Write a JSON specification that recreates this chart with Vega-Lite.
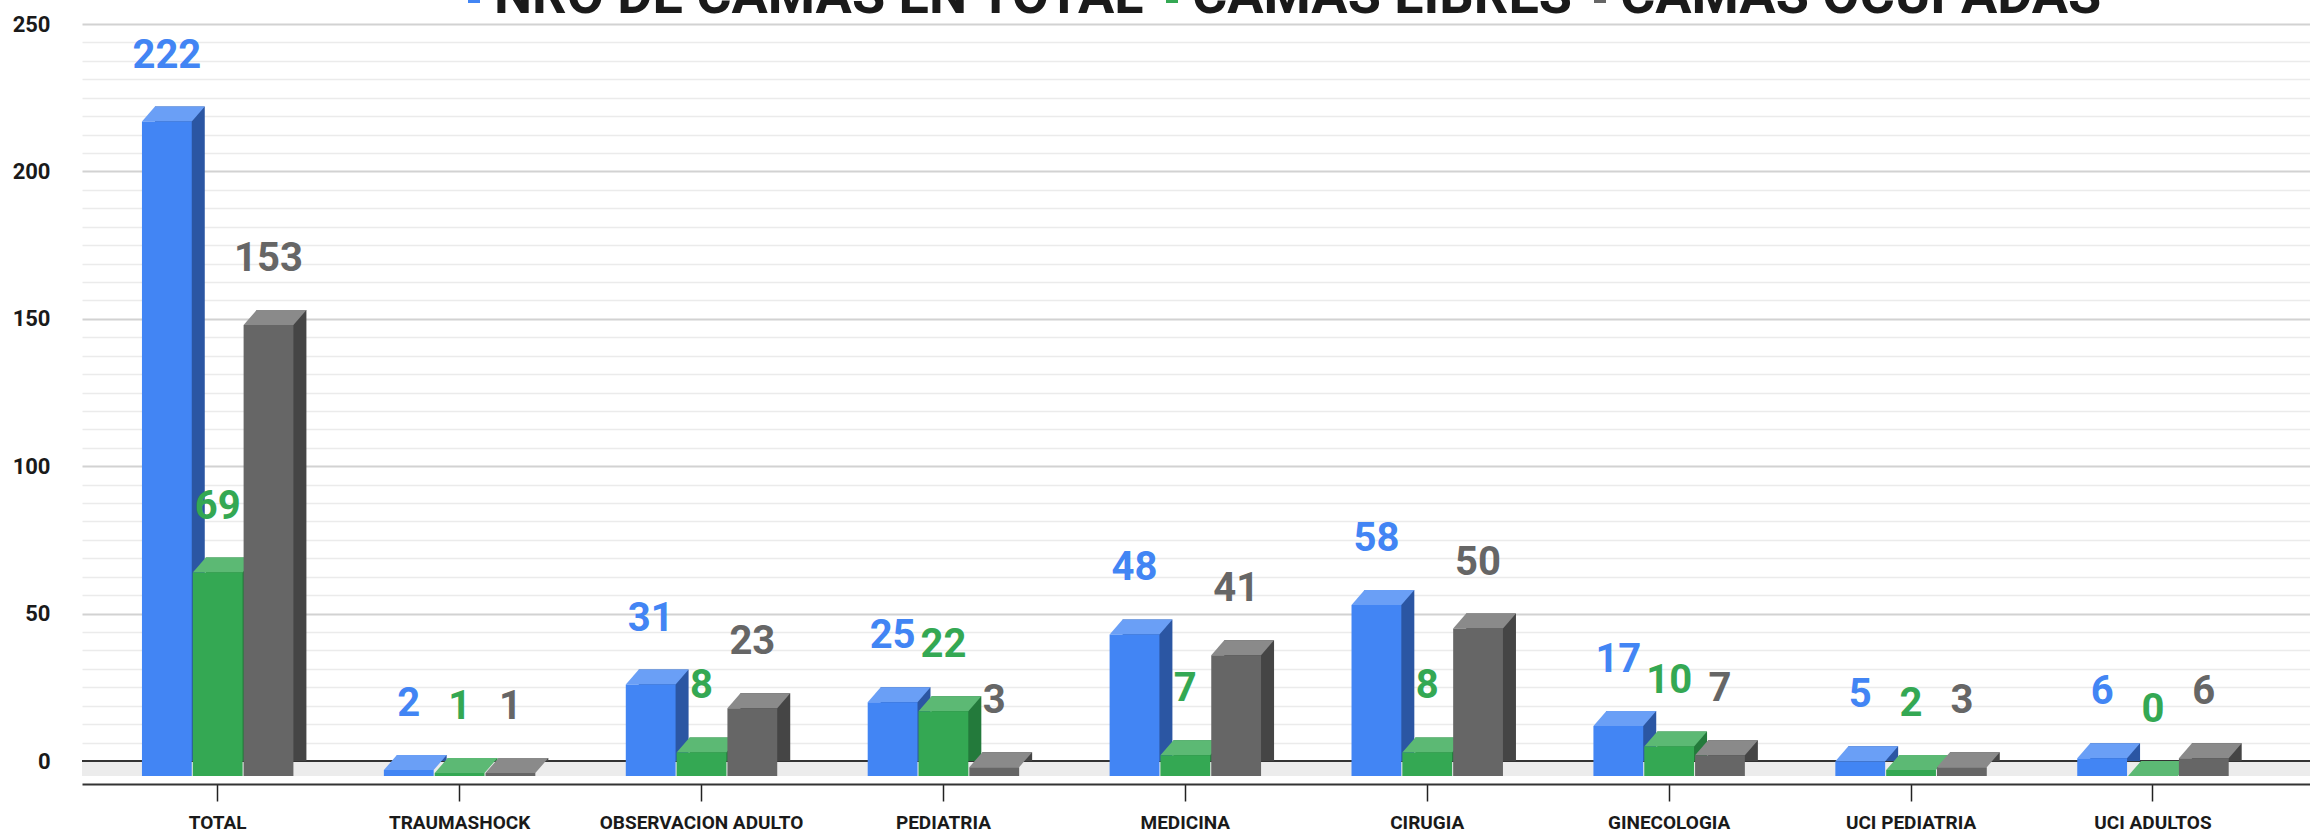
{
  "$schema": "https://vega.github.io/schema/vega-lite/v6.json",
  "autosize": {"type": "none"},
  "padding": {"left": 82, "top": 24, "right": 0, "bottom": 71},
  "width": 2228,
  "height": 737,
  "background": "#ffffff",
  "config": {
    "view": {"stroke": null},
    "font": "Roboto",
    "axisX": {
      "labelAngle": 0, "offset": 23, "grid": false, "domainColor": "#333333", "domainWidth": 2,
      "tickColor": "#222222", "tickSize": 17, "tickWidth": 1.5,
      "labelFont": "Roboto", "labelFontSize": 19, "labelFontWeight": "bold", "labelColor": "#1a1a1a",
      "labelPadding": 12, "labelBaseline": "top", "labelLimit": 400
    },
    "axisY": {
      "domain": false, "ticks": false, "tickSize": 0, "labelPadding": 32, "labelOverlap": false,
      "labelFont": "Roboto", "labelFontSize": 22, "labelFontWeight": "bold", "labelColor": "#1a1a1a"
    }
  },
  "data": {
    "values": [
      {"area": "TOTAL", "serie": "NRO DE CAMAS EN TOTAL", "camas": 222},
      {"area": "TOTAL", "serie": "CAMAS LIBRES", "camas": 69},
      {"area": "TOTAL", "serie": "CAMAS OCUPADAS", "camas": 153},
      {"area": "TRAUMASHOCK", "serie": "NRO DE CAMAS EN TOTAL", "camas": 2},
      {"area": "TRAUMASHOCK", "serie": "CAMAS LIBRES", "camas": 1},
      {"area": "TRAUMASHOCK", "serie": "CAMAS OCUPADAS", "camas": 1},
      {"area": "OBSERVACION ADULTO", "serie": "NRO DE CAMAS EN TOTAL", "camas": 31},
      {"area": "OBSERVACION ADULTO", "serie": "CAMAS LIBRES", "camas": 8},
      {"area": "OBSERVACION ADULTO", "serie": "CAMAS OCUPADAS", "camas": 23},
      {"area": "PEDIATRIA", "serie": "NRO DE CAMAS EN TOTAL", "camas": 25},
      {"area": "PEDIATRIA", "serie": "CAMAS LIBRES", "camas": 22},
      {"area": "PEDIATRIA", "serie": "CAMAS OCUPADAS", "camas": 3},
      {"area": "MEDICINA", "serie": "NRO DE CAMAS EN TOTAL", "camas": 48},
      {"area": "MEDICINA", "serie": "CAMAS LIBRES", "camas": 7},
      {"area": "MEDICINA", "serie": "CAMAS OCUPADAS", "camas": 41},
      {"area": "CIRUGIA", "serie": "NRO DE CAMAS EN TOTAL", "camas": 58},
      {"area": "CIRUGIA", "serie": "CAMAS LIBRES", "camas": 8},
      {"area": "CIRUGIA", "serie": "CAMAS OCUPADAS", "camas": 50},
      {"area": "GINECOLOGIA", "serie": "NRO DE CAMAS EN TOTAL", "camas": 17},
      {"area": "GINECOLOGIA", "serie": "CAMAS LIBRES", "camas": 10},
      {"area": "GINECOLOGIA", "serie": "CAMAS OCUPADAS", "camas": 7},
      {"area": "UCI PEDIATRIA", "serie": "NRO DE CAMAS EN TOTAL", "camas": 5},
      {"area": "UCI PEDIATRIA", "serie": "CAMAS LIBRES", "camas": 2},
      {"area": "UCI PEDIATRIA", "serie": "CAMAS OCUPADAS", "camas": 3},
      {"area": "UCI ADULTOS", "serie": "NRO DE CAMAS EN TOTAL", "camas": 6},
      {"area": "UCI ADULTOS", "serie": "CAMAS LIBRES", "camas": 0},
      {"area": "UCI ADULTOS", "serie": "CAMAS OCUPADAS", "camas": 6}
    ]
  },
  "resolve": {"scale": {"color": "independent", "x": "independent"}, "axis": {"y": "independent"}},
  "layer": [
    {
      "mark": {"type": "bar", "color": "#ffffff", "opacity": 0},
      "encoding": {
        "x": {"field": "area", "type": "nominal", "sort": null, "scale": {"paddingInner": 0, "paddingOuter": 0.105, "align": 0.29}, "axis": {"title": null}},
        "y": {"field": "camas", "type": "quantitative", "scale": {"domain": [0, 250], "nice": false},
          "axis": {"title": null,
            "values": [0, 6.25, 12.5, 18.75, 25, 31.25, 37.5, 43.75, 50, 56.25, 62.5, 68.75, 75, 81.25, 87.5, 93.75, 100, 106.25, 112.5, 118.75, 125, 131.25, 137.5, 143.75, 150, 156.25, 162.5, 168.75, 175, 181.25, 187.5, 193.75, 200, 206.25, 212.5, 218.75, 225, 231.25, 237.5, 243.75, 250],
            "labelExpr": "datum.value % 50 === 0 ? datum.label : ''",
            "grid": true,
            "gridColor": {"condition": {"test": "datum.value % 50 === 0", "value": "#d2d2d2"}, "value": "#ebebeb"},
            "gridWidth": {"condition": {"test": "datum.value % 50 === 0", "value": 2}, "value": 1.5}}}
      }
    },
    {
      "mark": {"type": "rule", "color": "#ececec", "strokeWidth": 15, "yOffset": 7.5, "strokeCap": "butt"},
      "encoding": {
        "y": {"datum": 0, "type": "quantitative", "axis": null}
      }
    },
    {
      "mark": {"type": "rule", "color": "#333333", "strokeWidth": 2},
      "encoding": {
        "y": {"datum": 0, "type": "quantitative", "axis": null}
      }
    },
    {
      "mark": {"type": "bar"},
      "encoding": {
        "x": {"field": "area", "type": "nominal", "sort": null, "scale": {"paddingInner": 0, "paddingOuter": 0.105, "align": 0.29, "range": [13, 2241]}, "axis": null},
        "xOffset": {"field": "serie", "sort": ["NRO DE CAMAS EN TOTAL", "CAMAS LIBRES", "CAMAS OCUPADAS"], "scale": {"paddingInner": 0.02, "paddingOuter": 0.89}},
        "y": {"field": "camas", "type": "quantitative", "axis": null},
        "color": {"field": "serie", "type": "nominal", "legend": null,
          "scale": {"domain": ["NRO DE CAMAS EN TOTAL", "CAMAS LIBRES", "CAMAS OCUPADAS"], "range": ["#2b56a3", "#237a3b", "#454545"]}}
      }
    },
    {
      "mark": {"type": "point", "shape": "M -24.9 0 L 24.9 0 L 37.9 -15 L -11.9 -15 Z", "size": 4, "filled": true, "opacity": 1, "strokeWidth": 0, "yOffset": 15},
      "encoding": {
        "x": {"field": "area", "type": "nominal", "sort": null, "scale": {"paddingInner": 0, "paddingOuter": 0.105, "align": 0.29}, "axis": null},
        "xOffset": {"field": "serie", "sort": ["NRO DE CAMAS EN TOTAL", "CAMAS LIBRES", "CAMAS OCUPADAS"], "scale": {"paddingInner": 0.02, "paddingOuter": 0.89}},
        "y": {"field": "camas", "type": "quantitative", "axis": null},
        "color": {"field": "serie", "type": "nominal", "legend": null,
          "scale": {"domain": ["NRO DE CAMAS EN TOTAL", "CAMAS LIBRES", "CAMAS OCUPADAS"], "range": ["#6a9ff6", "#5cb974", "#8a8a8a"]}}
      }
    },
    {
      "mark": {"type": "bar", "yOffset": 15, "y2Offset": 15},
      "encoding": {
        "x": {"field": "area", "type": "nominal", "sort": null, "scale": {"paddingInner": 0, "paddingOuter": 0.105, "align": 0.29}, "axis": null},
        "xOffset": {"field": "serie", "sort": ["NRO DE CAMAS EN TOTAL", "CAMAS LIBRES", "CAMAS OCUPADAS"], "scale": {"paddingInner": 0.02, "paddingOuter": 0.89}},
        "y": {"field": "camas", "type": "quantitative", "axis": null},
        "color": {"field": "serie", "type": "nominal",
          "scale": {"domain": ["NRO DE CAMAS EN TOTAL", "CAMAS LIBRES", "CAMAS OCUPADAS"], "range": ["#4285f4", "#34a853", "#666666"]},
          "legend": {"title": null, "orient": "none", "direction": "horizontal", "legendX": 365, "legendY": -54,
            "symbolType": "square", "symbolSize": 144, "symbolStrokeWidth": 0, "labelOffset": -7, "columnPadding": -12,
            "labelFont": "Roboto", "labelFontSize": 54, "labelFontWeight": "bold", "labelColor": "#1a1a1a", "labelLimit": 1000}}
      }
    },
    {
      "mark": {"type": "text", "baseline": "alphabetic", "dy": -39, "font": "Roboto", "fontSize": 40, "fontWeight": "bold"},
      "encoding": {
        "x": {"field": "area", "type": "nominal", "sort": null, "scale": {"paddingInner": 0, "paddingOuter": 0.105, "align": 0.29}, "axis": null},
        "xOffset": {"field": "serie", "sort": ["NRO DE CAMAS EN TOTAL", "CAMAS LIBRES", "CAMAS OCUPADAS"], "scale": {"paddingInner": 0.02, "paddingOuter": 0.89}},
        "y": {"field": "camas", "type": "quantitative", "axis": null},
        "text": {"field": "camas", "type": "quantitative"},
        "color": {"field": "serie", "type": "nominal", "legend": null,
          "scale": {"domain": ["NRO DE CAMAS EN TOTAL", "CAMAS LIBRES", "CAMAS OCUPADAS"], "range": ["#4285f4", "#34a853", "#666666"]}}
      }
    }
  ]
}
